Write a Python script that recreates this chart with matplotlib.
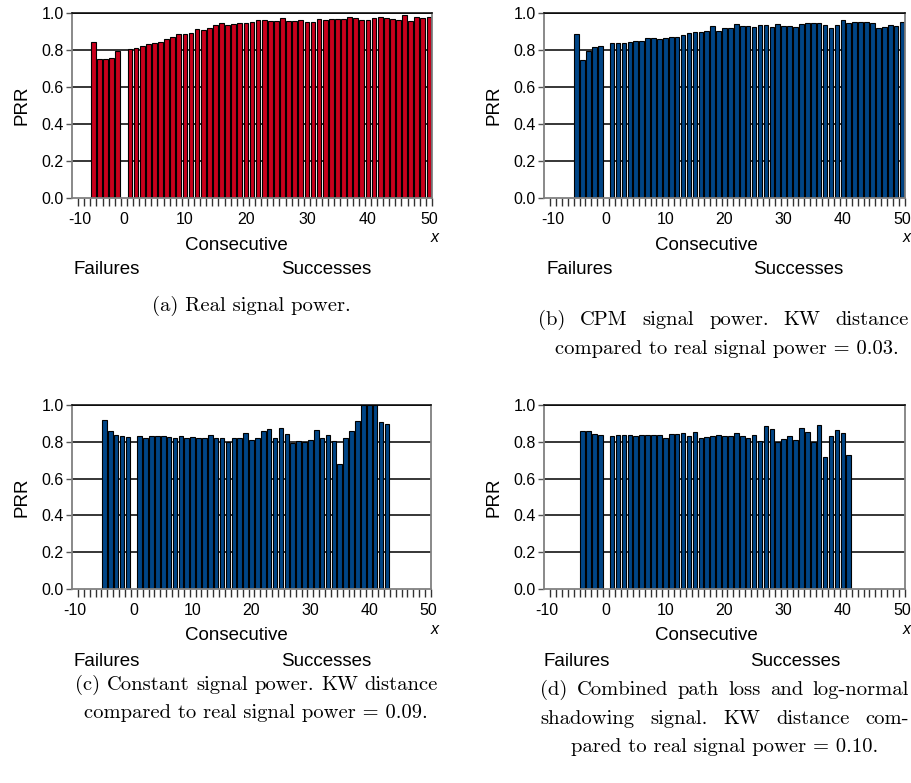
import matplotlib
matplotlib.use("Agg")
import matplotlib.pyplot as plt
import numpy as np

# ---------- data: PRR after n consecutive failures (<0) / successes (>0) ----------
real_fail = [0.843, 0.750, 0.750, 0.758, 0.796]
real_succ = [0.805, 0.810, 0.823, 0.830, 0.839, 0.845, 0.859, 0.872, 0.886, 0.886,
             0.892, 0.915, 0.910, 0.917, 0.935, 0.944, 0.937, 0.939, 0.944, 0.946,
             0.953, 0.962, 0.964, 0.958, 0.958, 0.971, 0.958, 0.958, 0.964, 0.953,
             0.953, 0.966, 0.960, 0.966, 0.966, 0.969, 0.978, 0.975, 0.960, 0.960,
             0.971, 0.976, 0.973, 0.967, 0.962, 0.987, 0.957, 0.980, 0.973, 0.978]

cpm_fail = [0.888, 0.748, 0.796, 0.814, 0.820]
cpm_succ = [0.840, 0.840, 0.840, 0.841, 0.847, 0.850, 0.863, 0.865, 0.861, 0.865,
            0.870, 0.870, 0.879, 0.890, 0.895, 0.897, 0.905, 0.930, 0.905, 0.917,
            0.917, 0.939, 0.932, 0.932, 0.924, 0.935, 0.935, 0.924, 0.939, 0.930,
            0.930, 0.924, 0.942, 0.946, 0.944, 0.946, 0.937, 0.921, 0.933, 0.960,
            0.946, 0.951, 0.950, 0.951, 0.946, 0.919, 0.924, 0.933, 0.928, 0.951]

const_fail = [0.921, 0.857, 0.839, 0.829, 0.827]
const_succ = [0.829, 0.823, 0.829, 0.830, 0.832, 0.825, 0.821, 0.832, 0.823, 0.825,
              0.818, 0.819, 0.838, 0.819, 0.821, 0.798, 0.819, 0.821, 0.850, 0.812,
              0.821, 0.859, 0.872, 0.818, 0.874, 0.843, 0.796, 0.807, 0.800, 0.812,
              0.865, 0.821, 0.838, 0.805, 0.679, 0.823, 0.857, 0.915, 1.000, 1.000,
              1.000, 0.908, 0.899]

shadow_fail = [0.861, 0.857, 0.845, 0.836]
shadow_succ = [0.829, 0.836, 0.838, 0.836, 0.832, 0.839, 0.839, 0.839, 0.838, 0.819,
               0.845, 0.843, 0.848, 0.829, 0.852, 0.823, 0.827, 0.830, 0.839, 0.834,
               0.832, 0.848, 0.830, 0.821, 0.836, 0.805, 0.886, 0.870, 0.798, 0.814,
               0.829, 0.810, 0.874, 0.854, 0.800, 0.894, 0.718, 0.834, 0.866, 0.847,
               0.726]

xtick_vals = [0, 10, 20, 30, 40, 50]
ytick_vals = [0.0, 0.2, 0.4, 0.6, 0.8, 1.0]

RED = "#C9001C"
BLUE = "#004586"
SANS = "Liberation Sans"
SERIF = "cmr10"
CAP = 14.8

W, H = 911, 783
fig = plt.figure(figsize=(W / 100, H / 100), dpi=100)


def P(x, y):
    return x / W, 1 - y / H


def panel(left, top, right, bottom, xmin, fail, succ, color, m10_pos):
    ax = fig.add_axes([left / W, 1 - bottom / H, (right - left) / W, (bottom - top) / H])
    xf = np.arange(-len(fail), 0)
    xs = np.arange(1, len(succ) + 1)
    for ys in ytick_vals[1:]:
        ax.axhline(ys, color="black", lw=1.1, zorder=0)
    ax.bar(xf, fail, width=0.78, color=color, edgecolor="black", lw=0.8, zorder=2)
    ax.bar(xs, succ, width=0.78, color=color, edgecolor="black", lw=0.8, zorder=2)
    ax.set_xlim(xmin, 50.5)
    ax.set_ylim(0, 1)
    ax.set_yticks(ytick_vals)
    ax.set_yticklabels([f"{v:.1f}" for v in ytick_vals], fontsize=11.5, family=SANS)
    ax.set_xticks([m10_pos] + xtick_vals)
    ax.set_xticklabels(["-10"] + [str(v) for v in xtick_vals], fontsize=11.5, family=SANS)
    ax.tick_params(axis="x", which="major", length=0, pad=10)
    ax.set_xticks(np.arange(xmin + 1, 50.6, 1.0), minor=True)
    ax.tick_params(axis="x", which="minor", length=6, width=1.0, color="#333333")
    ax.tick_params(axis="y", length=4, width=1.0, color="#555555", pad=2)
    for s in ("left", "right", "bottom"):
        ax.spines[s].set_color("#808080")
        ax.spines[s].set_linewidth(1.3)
    ax.spines["top"].set_color("black")
    ax.spines["top"].set_linewidth(1.1)
    ax.set_ylabel("PRR", fontsize=13.5, family=SANS, labelpad=8)
    return ax


def labels(cx, xr, y_cons, y_x, y_fs, fx, sx):
    fig.text(*P(cx, y_cons), "Consecutive", ha="center", va="center", fontsize=13.5, family=SANS)
    fig.text(*P(xr, y_x), "x", ha="center", va="center", fontsize=11.5, family=SANS, style="italic")
    fig.text(*P(fx, y_fs), "Failures", ha="center", va="center", fontsize=13.5, family=SANS)
    fig.text(*P(sx, y_fs), "Successes", ha="center", va="center", fontsize=13.5, family=SANS)


def justify(words, x0, x1, y, size=CAP):
    arts = [fig.text(0, 0, w, fontsize=size, family=SERIF, ha="left", va="center") for w in words]
    r = fig.canvas.get_renderer()
    widths = [a.get_window_extent(r).width for a in arts]
    gap = (x1 - x0 - sum(widths)) / (len(words) - 1)
    x = x0
    for a, w in zip(arts, widths):
        a.set_position(P(x, y))
        x += w + gap


def centered(text, cx, y, size=CAP):
    fig.text(*P(cx, y), text, ha="center", va="center", fontsize=size, family=SERIF)


# (a) real signal power
panel(72, 13, 432, 198, -8.5, real_fail, real_succ, RED, -7.3)
labels(236, 435, 245, 238, 270, 107, 326)
centered("(a) Real signal power.", 251, 306)

# (b) CPM signal power
panel(544, 13, 905, 198, -10.5, cpm_fail, cpm_succ, BLUE, -9)
labels(706, 907, 245, 238, 270, 580, 798)
justify("(b) CPM signal power. KW distance".split(), 538, 909, 320)
centered("compared to real signal power = 0.03.", 727, 349)

# (c) constant signal power
panel(72, 405, 431, 589, -10.5, const_fail, const_succ, BLUE, -10)
labels(236, 435, 636, 630, 661, 107, 326)
justify("(c) Constant signal power. KW distance".split(), 75, 438, 685)
centered("compared to real signal power = 0.09.", 256, 713)

# (d) path loss + log-normal shadowing
panel(544, 405, 905, 589, -10.5, shadow_fail, shadow_succ, BLUE, -10)
labels(706, 907, 636, 630, 661, 577, 795)
justify("(d) Combined path loss and log-normal".split(), 540, 909, 690)
justify("shadowing signal. KW distance com-".split(), 540, 909, 719)
centered("pared to real signal power = 0.10.", 725, 747)

fig.savefig("out.png", dpi=100)
